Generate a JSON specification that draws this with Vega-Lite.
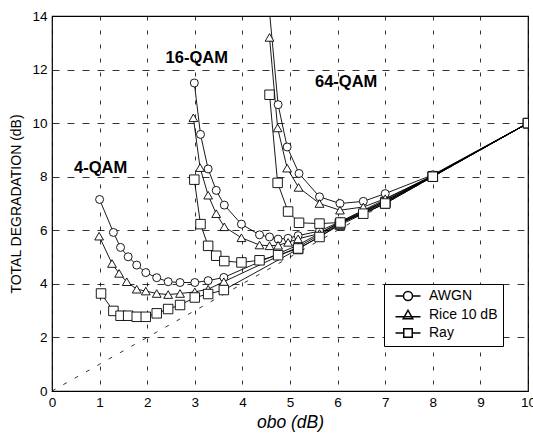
{
  "$schema": "https://vega.github.io/schema/vega-lite/v6.json",
  "width": 476,
  "height": 375,
  "autosize": {"type": "none"},
  "padding": {"left": 52, "top": 16, "right": 5, "bottom": 44},
  "background": "white",
  "config": {
    "font": "Liberation Sans",
    "view": {"stroke": "black", "strokeWidth": 1.2},
    "axis": {
      "labelFont": "Liberation Sans",
      "titleFont": "Liberation Sans",
      "labelColor": "black",
      "titleColor": "black",
      "labelFontSize": 13.5,
      "labelFlush": false,
      "labelOverlap": false,
      "labelBound": false,
      "domain": false,
      "ticks": false,
      "grid": true,
      "gridColor": "black",
      "gridWidth": 0.8,
      "gridOpacity": 1,
      "titleFontWeight": "normal"
    }
  },
  "datasets": {
    "curves": [
      {"m": "4", "c": "AWGN", "x": 1.0, "y": 7.15},
      {"m": "4", "c": "AWGN", "x": 1.29, "y": 5.92},
      {"m": "4", "c": "AWGN", "x": 1.44, "y": 5.36},
      {"m": "4", "c": "AWGN", "x": 1.6, "y": 5.01},
      {"m": "4", "c": "AWGN", "x": 1.78, "y": 4.7},
      {"m": "4", "c": "AWGN", "x": 1.97, "y": 4.42},
      {"m": "4", "c": "AWGN", "x": 2.2, "y": 4.23},
      {"m": "4", "c": "AWGN", "x": 2.44, "y": 4.08},
      {"m": "4", "c": "AWGN", "x": 2.69, "y": 4.05},
      {"m": "4", "c": "AWGN", "x": 3.0, "y": 4.05},
      {"m": "4", "c": "AWGN", "x": 3.28, "y": 4.12},
      {"m": "4", "c": "AWGN", "x": 3.61, "y": 4.24},
      {"m": "4", "c": "AWGN", "x": 5.17, "y": 5.45},
      {"m": "4", "c": "AWGN", "x": 6.05, "y": 6.3},
      {"m": "4", "c": "AWGN", "x": 7.0, "y": 7.1},
      {"m": "4", "c": "AWGN", "x": 8.0, "y": 8.03},
      {"m": "4", "c": "AWGN", "x": 10.0, "y": 10.0},
      {"m": "4", "c": "Rice 10 dB", "x": 0.99, "y": 5.78},
      {"m": "4", "c": "Rice 10 dB", "x": 1.26, "y": 4.76},
      {"m": "4", "c": "Rice 10 dB", "x": 1.41, "y": 4.39},
      {"m": "4", "c": "Rice 10 dB", "x": 1.57, "y": 4.08},
      {"m": "4", "c": "Rice 10 dB", "x": 1.78, "y": 3.8},
      {"m": "4", "c": "Rice 10 dB", "x": 1.97, "y": 3.73},
      {"m": "4", "c": "Rice 10 dB", "x": 2.2, "y": 3.64},
      {"m": "4", "c": "Rice 10 dB", "x": 2.44, "y": 3.6},
      {"m": "4", "c": "Rice 10 dB", "x": 2.69, "y": 3.64},
      {"m": "4", "c": "Rice 10 dB", "x": 3.0, "y": 3.7},
      {"m": "4", "c": "Rice 10 dB", "x": 3.28, "y": 3.8},
      {"m": "4", "c": "Rice 10 dB", "x": 3.61, "y": 4.08},
      {"m": "4", "c": "Rice 10 dB", "x": 5.17, "y": 5.38},
      {"m": "4", "c": "Rice 10 dB", "x": 6.05, "y": 6.25},
      {"m": "4", "c": "Rice 10 dB", "x": 7.0, "y": 7.05},
      {"m": "4", "c": "Rice 10 dB", "x": 8.0, "y": 8.02},
      {"m": "4", "c": "Rice 10 dB", "x": 10.0, "y": 10.0},
      {"m": "4", "c": "Ray", "x": 1.03, "y": 3.64},
      {"m": "4", "c": "Ray", "x": 1.29, "y": 2.99},
      {"m": "4", "c": "Ray", "x": 1.44, "y": 2.81},
      {"m": "4", "c": "Ray", "x": 1.6, "y": 2.81},
      {"m": "4", "c": "Ray", "x": 1.78, "y": 2.77},
      {"m": "4", "c": "Ray", "x": 1.97, "y": 2.77},
      {"m": "4", "c": "Ray", "x": 2.2, "y": 2.9},
      {"m": "4", "c": "Ray", "x": 2.44, "y": 3.06},
      {"m": "4", "c": "Ray", "x": 2.69, "y": 3.21},
      {"m": "4", "c": "Ray", "x": 3.0, "y": 3.49},
      {"m": "4", "c": "Ray", "x": 3.28, "y": 3.62},
      {"m": "4", "c": "Ray", "x": 3.61, "y": 3.77},
      {"m": "4", "c": "Ray", "x": 5.17, "y": 5.3},
      {"m": "4", "c": "Ray", "x": 6.05, "y": 6.2},
      {"m": "4", "c": "Ray", "x": 7.0, "y": 7.0},
      {"m": "4", "c": "Ray", "x": 8.0, "y": 8.0},
      {"m": "4", "c": "Ray", "x": 10.0, "y": 10.0},
      {"m": "16", "c": "AWGN", "x": 2.99, "y": 11.5},
      {"m": "16", "c": "AWGN", "x": 3.12, "y": 9.58},
      {"m": "16", "c": "AWGN", "x": 3.28, "y": 8.29},
      {"m": "16", "c": "AWGN", "x": 3.45, "y": 7.49},
      {"m": "16", "c": "AWGN", "x": 3.62, "y": 6.94},
      {"m": "16", "c": "AWGN", "x": 3.98, "y": 6.23},
      {"m": "16", "c": "AWGN", "x": 4.36, "y": 5.83},
      {"m": "16", "c": "AWGN", "x": 4.57, "y": 5.75},
      {"m": "16", "c": "AWGN", "x": 4.75, "y": 5.67},
      {"m": "16", "c": "AWGN", "x": 4.96, "y": 5.7},
      {"m": "16", "c": "AWGN", "x": 5.17, "y": 5.8},
      {"m": "16", "c": "AWGN", "x": 5.62, "y": 5.97},
      {"m": "16", "c": "AWGN", "x": 6.05, "y": 6.32},
      {"m": "16", "c": "AWGN", "x": 7.0, "y": 7.15},
      {"m": "16", "c": "AWGN", "x": 8.0, "y": 8.05},
      {"m": "16", "c": "AWGN", "x": 10.0, "y": 10.0},
      {"m": "16", "c": "Rice 10 dB", "x": 2.97, "y": 10.2},
      {"m": "16", "c": "Rice 10 dB", "x": 3.11, "y": 8.34},
      {"m": "16", "c": "Rice 10 dB", "x": 3.28, "y": 7.31},
      {"m": "16", "c": "Rice 10 dB", "x": 3.45, "y": 6.62},
      {"m": "16", "c": "Rice 10 dB", "x": 3.62, "y": 6.13},
      {"m": "16", "c": "Rice 10 dB", "x": 3.98, "y": 5.72},
      {"m": "16", "c": "Rice 10 dB", "x": 4.36, "y": 5.45},
      {"m": "16", "c": "Rice 10 dB", "x": 4.57, "y": 5.42},
      {"m": "16", "c": "Rice 10 dB", "x": 4.75, "y": 5.44},
      {"m": "16", "c": "Rice 10 dB", "x": 4.96, "y": 5.55},
      {"m": "16", "c": "Rice 10 dB", "x": 5.17, "y": 5.68},
      {"m": "16", "c": "Rice 10 dB", "x": 5.62, "y": 5.88},
      {"m": "16", "c": "Rice 10 dB", "x": 6.05, "y": 6.28},
      {"m": "16", "c": "Rice 10 dB", "x": 7.0, "y": 7.1},
      {"m": "16", "c": "Rice 10 dB", "x": 8.0, "y": 8.03},
      {"m": "16", "c": "Rice 10 dB", "x": 10.0, "y": 10.0},
      {"m": "16", "c": "Ray", "x": 2.99, "y": 7.89},
      {"m": "16", "c": "Ray", "x": 3.12, "y": 6.23},
      {"m": "16", "c": "Ray", "x": 3.28, "y": 5.42},
      {"m": "16", "c": "Ray", "x": 3.45, "y": 5.05},
      {"m": "16", "c": "Ray", "x": 3.62, "y": 4.85},
      {"m": "16", "c": "Ray", "x": 3.98, "y": 4.8},
      {"m": "16", "c": "Ray", "x": 4.36, "y": 4.88},
      {"m": "16", "c": "Ray", "x": 4.75, "y": 5.07},
      {"m": "16", "c": "Ray", "x": 5.17, "y": 5.32},
      {"m": "16", "c": "Ray", "x": 5.62, "y": 5.75},
      {"m": "16", "c": "Ray", "x": 6.05, "y": 6.25},
      {"m": "16", "c": "Ray", "x": 7.0, "y": 7.05},
      {"m": "16", "c": "Ray", "x": 8.0, "y": 8.02},
      {"m": "16", "c": "Ray", "x": 10.0, "y": 10.0},
      {"m": "64", "c": "AWGN", "x": 4.5, "y": 15.5},
      {"m": "64", "c": "AWGN", "x": 4.75, "y": 10.69},
      {"m": "64", "c": "AWGN", "x": 4.94, "y": 9.11},
      {"m": "64", "c": "AWGN", "x": 5.19, "y": 8.12},
      {"m": "64", "c": "AWGN", "x": 5.62, "y": 7.25},
      {"m": "64", "c": "AWGN", "x": 6.05, "y": 7.0},
      {"m": "64", "c": "AWGN", "x": 6.54, "y": 7.08},
      {"m": "64", "c": "AWGN", "x": 7.0, "y": 7.37},
      {"m": "64", "c": "AWGN", "x": 8.0, "y": 8.07},
      {"m": "64", "c": "AWGN", "x": 10.0, "y": 10.0},
      {"m": "64", "c": "Rice 10 dB", "x": 4.57, "y": 13.2},
      {"m": "64", "c": "Rice 10 dB", "x": 4.74, "y": 9.82},
      {"m": "64", "c": "Rice 10 dB", "x": 4.94, "y": 8.32},
      {"m": "64", "c": "Rice 10 dB", "x": 5.18, "y": 7.6},
      {"m": "64", "c": "Rice 10 dB", "x": 5.62, "y": 7.0},
      {"m": "64", "c": "Rice 10 dB", "x": 6.05, "y": 6.75},
      {"m": "64", "c": "Rice 10 dB", "x": 6.54, "y": 6.87},
      {"m": "64", "c": "Rice 10 dB", "x": 7.0, "y": 7.18},
      {"m": "64", "c": "Rice 10 dB", "x": 8.0, "y": 8.03},
      {"m": "64", "c": "Rice 10 dB", "x": 10.0, "y": 10.0},
      {"m": "64", "c": "Ray", "x": 4.57, "y": 11.06},
      {"m": "64", "c": "Ray", "x": 4.74, "y": 7.77},
      {"m": "64", "c": "Ray", "x": 4.96, "y": 6.7},
      {"m": "64", "c": "Ray", "x": 5.19, "y": 6.28},
      {"m": "64", "c": "Ray", "x": 5.62, "y": 6.25},
      {"m": "64", "c": "Ray", "x": 6.06, "y": 6.29},
      {"m": "64", "c": "Ray", "x": 6.54, "y": 6.62},
      {"m": "64", "c": "Ray", "x": 7.0, "y": 7.0},
      {"m": "64", "c": "Ray", "x": 8.0, "y": 8.0},
      {"m": "64", "c": "Ray", "x": 10.0, "y": 10.0}
    ],
    "labels": [
      {"t": "4-QAM", "x": 1.02, "y": 8.33},
      {"t": "16-QAM", "x": 3.04, "y": 12.43},
      {"t": "64-QAM", "x": 6.18, "y": 11.52}
    ],
    "ref": [{"x": 0, "y": 0}, {"x": 10, "y": 10}],
    "keys": [{"k": "AWGN"}, {"k": "Rice 10 dB"}, {"k": "Ray"}]
  },
  "layer": [
    {
      "data": {"name": "ref"},
      "mark": {"type": "line", "color": "black", "strokeWidth": 0.8, "strokeDash": [4, 9]},
      "encoding": {
        "x": {
          "field": "x", "type": "quantitative",
          "scale": {"domain": [0, 10], "nice": false},
          "axis": {
            "values": [0, 1, 2, 3, 4, 5, 6, 7, 8, 9, 10],
            "gridDash": [4, 10],
            "labelPadding": 4,
            "title": "obo (dB)",
            "titleFontSize": 17.5,
            "titleFontStyle": "italic",
            "titlePadding": 5
          }
        },
        "y": {
          "field": "y", "type": "quantitative",
          "scale": {"domain": [0, 14], "nice": false},
          "axis": {
            "values": [0, 2, 4, 6, 8, 10, 12, 14],
            "gridDash": [7, 8],
            "labelPadding": 5,
            "title": "TOTAL DEGRADATION (dB)",
            "titleFontSize": 14,
            "titlePadding": 8
          }
        }
      }
    },
    {
      "data": {"name": "curves"},
      "mark": {"type": "line", "color": "black", "strokeWidth": 0.9, "clip": true},
      "encoding": {
        "x": {"field": "x", "type": "quantitative"},
        "y": {"field": "y", "type": "quantitative"},
        "detail": [{"field": "m"}, {"field": "c"}]
      }
    },
    {
      "data": {"name": "curves"},
      "mark": {"type": "point", "filled": true, "fill": "white", "stroke": "black", "strokeWidth": 0.9, "opacity": 1, "clip": true},
      "encoding": {
        "x": {"field": "x", "type": "quantitative"},
        "y": {"field": "y", "type": "quantitative"},
        "shape": {
          "field": "c", "type": "nominal",
          "scale": {"domain": ["AWGN", "Rice 10 dB", "Ray"], "range": ["circle", "triangle-up", "square"]},
          "legend": null
        },
        "size": {
          "field": "c", "type": "nominal",
          "scale": {"domain": ["AWGN", "Rice 10 dB", "Ray"], "range": [64, 90, 75]},
          "legend": null
        }
      }
    },
    {
      "data": {"name": "labels"},
      "mark": {"type": "text", "font": "Liberation Sans", "fontWeight": "bold", "fontSize": 16.5, "color": "black", "align": "center", "baseline": "middle"},
      "encoding": {
        "x": {"field": "x", "type": "quantitative"},
        "y": {"field": "y", "type": "quantitative"},
        "text": {"field": "t"}
      }
    },
    {
      "data": {"name": "keys"},
      "mark": {"type": "point", "opacity": 0, "filled": false, "fill": "white", "stroke": "black", "strokeWidth": 1},
      "encoding": {
        "shape": {
          "field": "k", "type": "nominal",
          "scale": {
            "domain": ["AWGN", "Rice 10 dB", "Ray"],
            "range": [
              "M-2.5,0H-0.9M0.9,0H2.5M0.9,0A0.9,0.9,0,1,1,-0.9,0A0.9,0.9,0,1,1,0.9,0Z",
              "M-2.5,0.35H2.5M0,-0.95L0.95,0.75L-0.95,0.75Z",
              "M-2.5,0H-0.85M0.85,0H2.5M-0.85,-0.85H0.85V0.85H-0.85Z"
            ]
          },
          "legend": {
            "title": null,
            "orient": "none",
            "legendX": 332,
            "legendY": 268,
            "padding": 5,
            "strokeColor": "black",
            "fillColor": "white",
            "symbolSize": 100,
            "symbolOffset": 12,
            "labelOffset": 14,
            "labelFontSize": 14,
            "labelFont": "Liberation Sans",
            "labelColor": "black",
            "rowPadding": 3,
            "encode": {
              "symbols": {
                "update": {
                  "opacity": {"value": 1},
                  "fillOpacity": {"value": 1},
                  "strokeOpacity": {"value": 1},
                  "fill": {"value": "white"},
                  "stroke": {"value": "black"},
                  "strokeWidth": {"value": 1}
                }
              }
            }
          }
        }
      }
    }
  ],
  "resolve": {"scale": {"shape": "independent", "size": "independent"}, "legend": {"shape": "independent"}}
}
